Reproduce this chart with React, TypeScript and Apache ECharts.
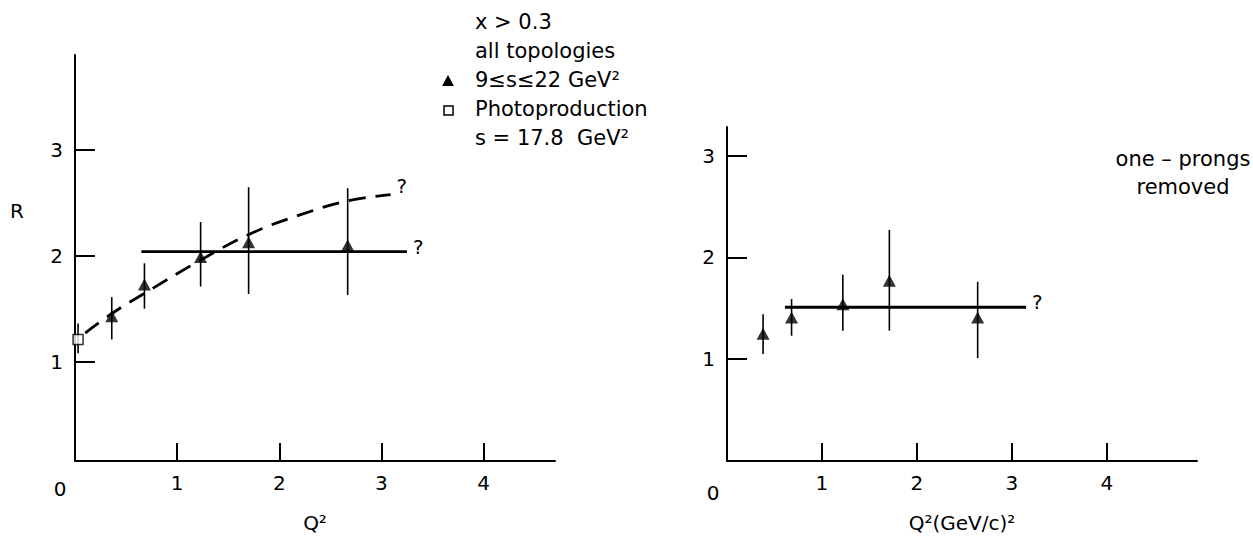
import React, { useEffect, useRef } from "react";
import * as echarts from "echarts";

// ---- Data ----
// Left panel: x > 0.3, all topologies
const leftTriangles: number[][] = [
  [0.36, 1.43],
  [0.68, 1.73],
  [1.23, 1.99],
  [1.7, 2.13],
  [2.67, 2.1],
];
const leftTriangleErr: number[][] = [
  [0.36, 1.21, 1.61],
  [0.68, 1.5, 1.93],
  [1.23, 1.71, 2.32],
  [1.7, 1.64, 2.65],
  [2.67, 1.63, 2.64],
];
const photoPoint: number[][] = [[0.03, 1.21]];
const photoErr: number[][] = [[0.03, 1.08, 1.36]];
const leftDashedCurve: number[][] = [
  [0.1, 1.27],
  [0.37, 1.46],
  [0.67, 1.64],
  [1.23, 1.96],
  [1.72, 2.21],
  [2.21, 2.39],
  [2.67, 2.52],
  [3.09, 2.58],
];
const leftFlatLine: number[][] = [
  [0.65, 2.04],
  [3.25, 2.04],
];

// Right panel: one-prongs removed
const rightTriangles: number[][] = [
  [0.38, 1.25],
  [0.68, 1.41],
  [1.22, 1.54],
  [1.71, 1.77],
  [2.64, 1.41],
];
const rightTriangleErr: number[][] = [
  [0.38, 1.05, 1.44],
  [0.68, 1.23, 1.59],
  [1.22, 1.28, 1.83],
  [1.71, 1.28, 2.27],
  [2.64, 1.01, 1.76],
];
const rightFlatLine: number[][] = [
  [0.61, 1.51],
  [3.15, 1.51],
];

// Tick labels
const xTicks = [1, 2, 3, 4];
const yTicks = [1, 2, 3];
const legendLines = [
  "x > 0.3",
  "all topologies",
  "9≤s≤22 GeV²",
  "Photoproduction",
  "s = 17.8  GeV²",
];
const rightNote = ["one – prongs", "removed"];

const FONT = '"DejaVu Sans", "Liberation Sans", sans-serif';

export default function App() {
  const ref = useRef<HTMLDivElement>(null);

  useEffect(() => {
    if (!ref.current) return;
    const chart = echarts.init(ref.current, undefined, { renderer: "svg" });

    const axisLineStyle = { color: "#000", width: 2 };
    const labelStyle = { color: "#000", fontSize: 20, fontFamily: FONT };

    const makeX = (gridIndex: number, max: number, name: string) => ({
      type: "value",
      gridIndex,
      min: 0,
      max,
      name,
      nameLocation: "middle",
      nameGap: 52,
      nameTextStyle: { color: "#000", fontSize: 20, fontFamily: FONT },
      axisLine: { show: true, onZero: false, lineStyle: axisLineStyle },
      axisTick: {
        show: true,
        inside: true,
        length: 18,
        lineStyle: { color: "#000", width: 2 },
        customValues: xTicks,
      },
      axisLabel: { ...labelStyle, margin: 12, customValues: xTicks },
      splitLine: { show: false },
    });

    const makeY = (gridIndex: number, min: number, max: number) => ({
      type: "value",
      gridIndex,
      min,
      max,
      axisLine: { show: true, onZero: false, lineStyle: axisLineStyle },
      axisTick: {
        show: true,
        inside: true,
        length: 20,
        lineStyle: { color: "#000", width: 2 },
        customValues: yTicks,
      },
      axisLabel: { ...labelStyle, margin: 12, customValues: yTicks },
      splitLine: { show: false },
    });

    const errRender = (params: any, api: any) => {
      const x = api.value(0);
      const lo = api.coord([x, api.value(1)]);
      const hi = api.coord([x, api.value(2)]);
      return {
        type: "line",
        shape: { x1: lo[0], y1: lo[1], x2: hi[0], y2: hi[1] },
        style: { stroke: "#000", lineWidth: 1.6 },
      };
    };

    const qEndLabel = (dy: number) => ({
      show: true,
      formatter: "?",
      distance: 6,
      offset: [0, dy],
      color: "#000",
      fontSize: 20,
      fontFamily: FONT,
    });

    const option: any = {
      animation: false,
      backgroundColor: "#fff",
      grid: [
        { left: 75, top: 55, width: 480, height: 411 },
        { left: 727, top: 127, width: 470, height: 344 },
      ],
      xAxis: [makeX(0, 4.7, "Q²"), makeX(1, 4.95, "Q²(GeV/c)²")],
      yAxis: [makeY(0, 0.06, 3.9), makeY(1, 0, 3.28)],
      series: [
        {
          type: "custom",
          xAxisIndex: 0,
          yAxisIndex: 0,
          renderItem: errRender,
          data: leftTriangleErr,
          z: 1,
        },
        {
          type: "custom",
          xAxisIndex: 0,
          yAxisIndex: 0,
          renderItem: errRender,
          data: photoErr,
          z: 1,
        },
        {
          type: "line",
          xAxisIndex: 0,
          yAxisIndex: 0,
          data: leftDashedCurve,
          smooth: 0.4,
          showSymbol: false,
          symbol: "none",
          lineStyle: { color: "#000", width: 2.8, type: [17, 10] },
          endLabel: qEndLabel(-9),
          z: 2,
        },
        {
          type: "line",
          xAxisIndex: 0,
          yAxisIndex: 0,
          data: leftFlatLine,
          showSymbol: false,
          symbol: "none",
          lineStyle: { color: "#000", width: 2.8 },
          endLabel: qEndLabel(-5),
          z: 2,
        },
        {
          type: "scatter",
          xAxisIndex: 0,
          yAxisIndex: 0,
          data: leftTriangles,
          symbol: "triangle",
          symbolSize: [13, 12],
          itemStyle: { color: "#000" },
          z: 3,
        },
        {
          type: "scatter",
          xAxisIndex: 0,
          yAxisIndex: 0,
          data: photoPoint,
          symbol: "rect",
          symbolSize: 10,
          itemStyle: { color: "#fff", borderColor: "#000", borderWidth: 1.5 },
          z: 3,
        },
        {
          type: "custom",
          xAxisIndex: 1,
          yAxisIndex: 1,
          renderItem: errRender,
          data: rightTriangleErr,
          z: 1,
        },
        {
          type: "line",
          xAxisIndex: 1,
          yAxisIndex: 1,
          data: rightFlatLine,
          showSymbol: false,
          symbol: "none",
          lineStyle: { color: "#000", width: 2.8 },
          endLabel: qEndLabel(-5),
          z: 2,
        },
        {
          type: "scatter",
          xAxisIndex: 1,
          yAxisIndex: 1,
          data: rightTriangles,
          symbol: "triangle",
          symbolSize: [13, 12],
          itemStyle: { color: "#000" },
          z: 3,
        },
      ],
      graphic: [
        // origin "0" labels
        {
          type: "text",
          style: { text: "0", x: 60, y: 489, fontSize: 20, fontFamily: FONT, fill: "#000", align: "center", verticalAlign: "middle" },
        },
        {
          type: "text",
          style: { text: "0", x: 713, y: 493, fontSize: 20, fontFamily: FONT, fill: "#000", align: "center", verticalAlign: "middle" },
        },
        // y axis name
        {
          type: "text",
          style: { text: "R", x: 17, y: 211, fontSize: 20, fontFamily: FONT, fill: "#000", align: "center", verticalAlign: "middle" },
        },
        // legend text
        ...legendLines.map((t, i) => ({
          type: "text",
          style: {
            text: t,
            x: 475,
            y: 22 + i * 29,
            fontSize: 21,
            fontFamily: FONT,
            fill: "#000",
            align: "left",
            verticalAlign: "middle",
          },
        })),
        {
          type: "polygon",
          shape: { points: [[442, 86], [454, 86], [448, 75]] },
          style: { fill: "#000" },
        },
        {
          type: "rect",
          shape: { x: 444, y: 106, width: 9, height: 9 },
          style: { fill: "#fff", stroke: "#000", lineWidth: 1.5 },
        },
        // right note
        ...rightNote.map((t, i) => ({
          type: "text",
          style: {
            text: t,
            x: 1183,
            y: 159 + i * 28,
            fontSize: 21,
            fontFamily: FONT,
            fill: "#000",
            align: "center",
            verticalAlign: "middle",
          },
        })),
      ],
    };

    chart.setOption(option);
    return () => chart.dispose();
  }, []);

  return (
    <div
      ref={ref}
      style={{ position: "fixed", left: 0, top: 0, width: 1253, height: 538, background: "#fff" }}
    />
  );
}
